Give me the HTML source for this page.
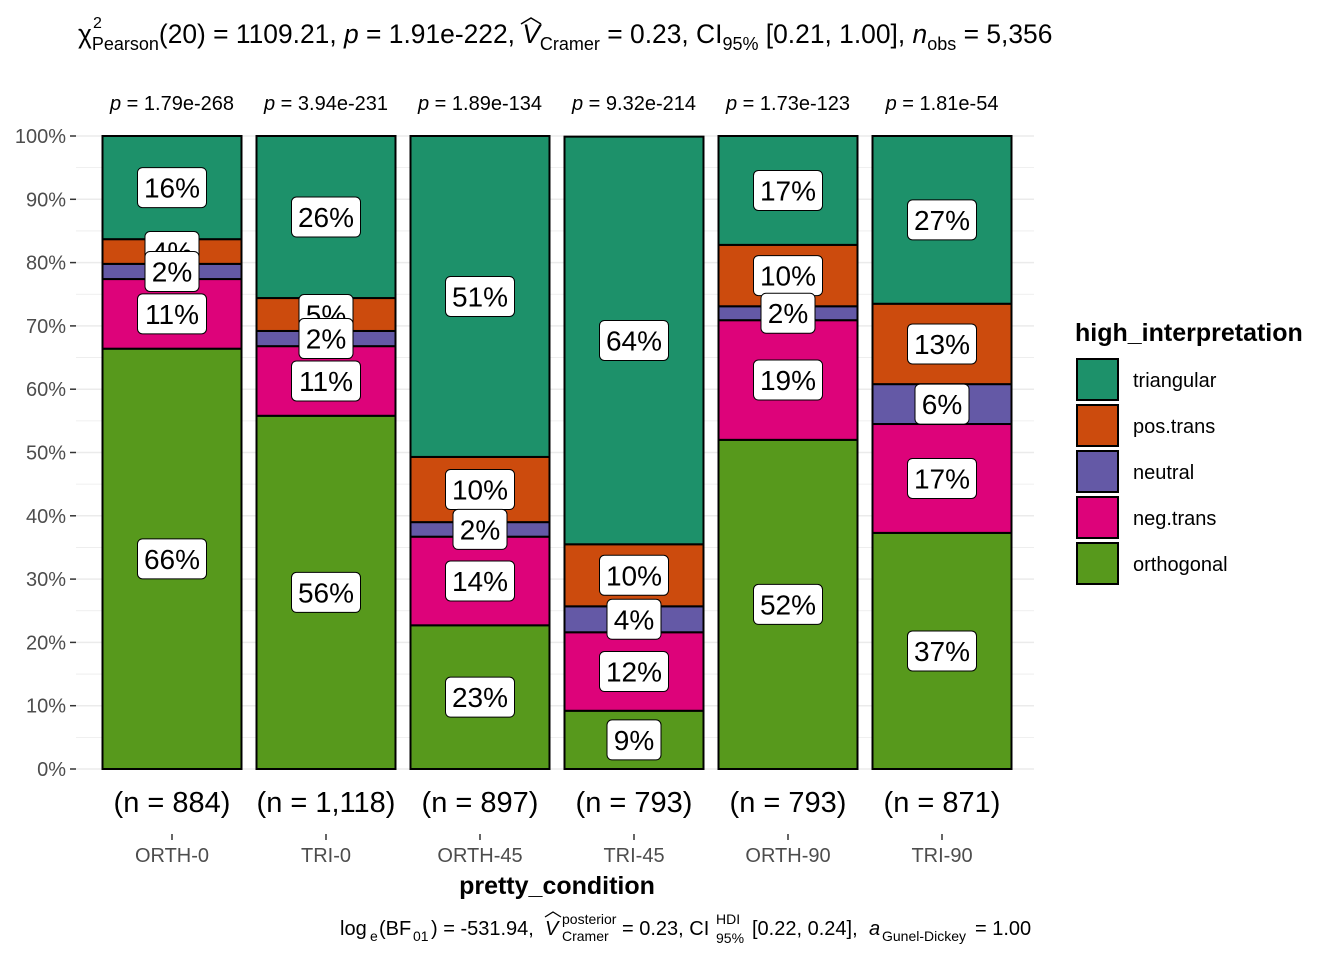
<!DOCTYPE html>
<html><head><meta charset="utf-8"><style>
body{margin:0;background:#fff;font-family:"Liberation Sans",sans-serif;}
svg text{font-family:"Liberation Sans",sans-serif;}
</style></head><body>
<svg id="chart" width="1344" height="960" xmlns="http://www.w3.org/2000/svg">
<g>
<text x="78" y="43" font-size="26.4">χ<tspan dy="7" font-size="18">Pearson</tspan><tspan dy="-7">(20) = 1109.21, </tspan><tspan font-style="italic">p</tspan> = 1.91e-222, <tspan font-style="italic">V</tspan><tspan dy="7" font-size="18">Cramer</tspan><tspan dy="-7"> = 0.23, CI</tspan><tspan dy="7" font-size="18">95%</tspan><tspan dy="-7"> [0.21, 1.00], </tspan><tspan font-style="italic">n</tspan><tspan dy="7" font-size="18">obs</tspan><tspan dy="-7"> = 5,356</tspan></text>
<text x="93" y="28" font-size="16">2</text>
<path d="M521 24 L531 18 L541 24" fill="none" stroke="#000" stroke-width="1.5"/>
</g>
<g id="grid"></g><g id="bars"></g><g id="labels"></g><g id="axes"></g>
<text x="557" y="894" font-size="25" font-weight="bold" text-anchor="middle">pretty_condition</text>
<g font-size="20">
<text x="340" y="935">log</text>
<text x="370" y="941" font-size="14">e</text>
<text x="379" y="935">(BF</text>
<text x="413" y="941" font-size="14">01</text>
<text x="431" y="935">) = -531.94,</text>
<text x="545" y="935" font-style="italic">V</text>
<path d="M545 917 L553 912 L561 917" fill="none" stroke="#000" stroke-width="1.3"/>
<text x="562" y="924" font-size="14">posterior</text>
<text x="562" y="941" font-size="14">Cramer</text>
<text x="622" y="935">= 0.23, CI</text>
<text x="716" y="924" font-size="14">HDI</text>
<text x="716" y="943" font-size="14">95%</text>
<text x="752" y="935">[0.22, 0.24],</text>
<text x="869" y="935" font-style="italic">a</text>
<text x="882" y="941" font-size="14">Gunel-Dickey</text>
<text x="975" y="935">= 1.00</text>
</g>
<g id="legend">
<text x="1075" y="341" font-size="25" font-weight="bold">high_interpretation</text>
</g>
</svg>
<script>
const categories=["ORTH-0","TRI-0","ORTH-45","TRI-45","ORTH-90","TRI-90"];
const nLabels=["(n = 884)","(n = 1,118)","(n = 897)","(n = 793)","(n = 793)","(n = 871)"];
const pLabels=["1.79e-268","3.94e-231","1.89e-134","9.32e-214","1.73e-123","1.81e-54"];
const seriesNames=["orthogonal","neg.trans","neutral","pos.trans","triangular"];
const orthogonal=[66.4,55.8,22.7,9.2,52.0,37.3];
const negTrans=[11.0,11.0,14.0,12.4,18.9,17.2];
const neutral=[2.4,2.4,2.3,4.1,2.2,6.3];
const posTrans=[3.9,5.2,10.3,9.8,9.7,12.7];
const triangular=[16.3,25.6,50.7,64.4,17.2,26.5];
const yTicks=[0,10,20,30,40,50,60,70,80,90,100];
const colors=["#57991c","#dd037a","#6459a6","#cc4b0d","#1d916a"];
const S=[orthogonal,negTrans,neutral,posTrans,triangular];
const ns="http://www.w3.org/2000/svg";
const y=v=>769-v*6.33;
const xc=i=>172+i*154;
const bw=139;
function mk(t,a,p){const e=document.createElementNS(ns,t);for(const k in a)e.setAttribute(k,a[k]);p.appendChild(e);return e;}
const grid=document.getElementById('grid'),bars=document.getElementById('bars'),labels=document.getElementById('labels'),axes=document.getElementById('axes');
for(let v=0;v<=100;v+=5){const l=mk('line',{x1:76,x2:1034,y1:y(v),y2:y(v),stroke:'#ebebeb','stroke-width':v%10?0.8:1.5},grid);

}
yTicks.forEach(v=>{const t=mk('text',{x:66,y:y(v)+7,'font-size':20,'text-anchor':'end',fill:'#4d4d4d'},axes);t.textContent=v+'%';


mk('line',{x1:70,x2:76,y1:y(v),y2:y(v),stroke:'#333','stroke-width':1.5},axes);});
categories.forEach((c,i)=>{let base=0;const labs=[];
S.forEach((s,k)=>{const v=s[i];const r=mk('rect',{x:xc(i)-bw/2,y:y(base+v),width:bw,height:v*6.33,fill:colors[k],stroke:'#000','stroke-width':2},bars);


labs.push([y(base+v/2),Math.round(v)+'%']);
base+=v;});
labs.reverse().forEach(([mid,txt])=>{const w=txt.length*15+24;
const g=mk('g',{},labels);


mk('rect',{x:xc(i)-w/2,y:mid-20,width:w,height:40,rx:5,fill:'#fff',stroke:'#000','stroke-width':1},g);
const t=mk('text',{x:xc(i),y:mid+10,'font-size':28,'text-anchor':'middle'},g);t.textContent=txt;});
const p=mk('text',{x:xc(i),y:110,'font-size':20,'text-anchor':'middle'},axes);p.innerHTML='<tspan font-style="italic">p</tspan> = '+pLabels[i];


const n=mk('text',{x:xc(i),y:812,'font-size':29,'text-anchor':'middle'},axes);n.textContent=nLabels[i];


mk('line',{x1:xc(i),x2:xc(i),y1:834,y2:840,stroke:'#333','stroke-width':1.5},axes);
const xt=mk('text',{x:xc(i),y:862,'font-size':20,'text-anchor':'middle',fill:'#4d4d4d'},axes);xt.textContent=c;

});
const leg=document.getElementById('legend');
["triangular","pos.trans","neutral","neg.trans","orthogonal"].forEach((nm,j)=>{const k=seriesNames.indexOf(nm);
const g=mk('g',{},leg);


mk('rect',{x:1077,y:359+j*46,width:41,height:41,fill:colors[k],stroke:'#000','stroke-width':2},g);
const t=mk('text',{x:1133,y:387+j*46,'font-size':20},g);t.textContent=nm;});
</script>
</body></html>
